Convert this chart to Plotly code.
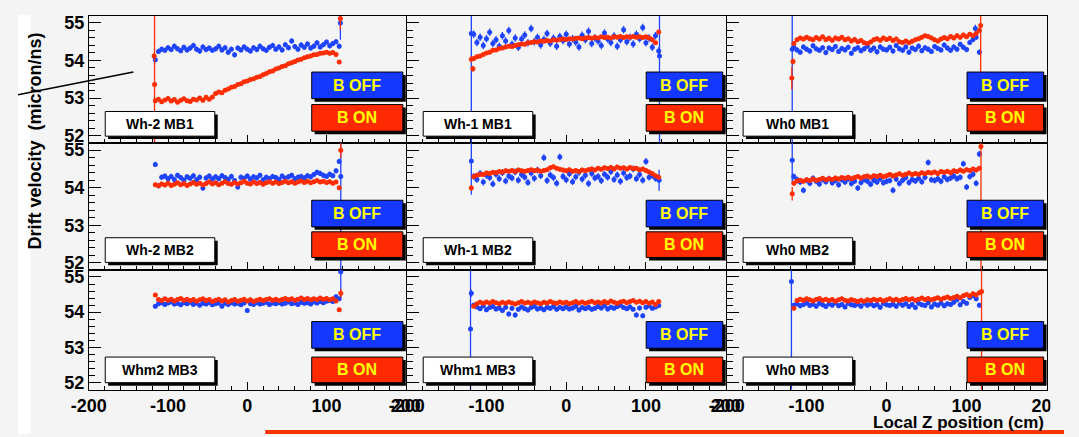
import plotly.graph_objects as go

W, H = 1079, 437

# ---------------- data ----------------
z_bins = [-116, -112, -108, -104, -100, -96, -92, -88, -84, -80, -76, -72, -68, -64, -60,
          -56, -52, -48, -44, -40, -36, -32, -28, -24, -20, -16, -12, -8, -4, 0,
          4, 8, 12, 16, 20, 24, 28, 32, 36, 40, 44, 48, 52, 56, 60,
          64, 68, 72, 76, 80, 84, 88, 92, 96, 100, 104, 108, 112, 116]

panel_names = ["Wh-2 MB1", "Wh-1 MB1", "Wh0 MB1",
               "Wh-2 MB2", "Wh-1 MB2", "Wh0 MB2",
               "Whm2 MB3", "Whm1 MB3", "Wh0 MB3"]

whm2_mb1_off = [54.02, 54.24, 54.30, 54.27, 54.34, 54.29, 54.38, 54.31, 54.26, 54.35,
                54.28, 54.33, 54.40, 54.30, 54.25, 54.36, 54.29, 54.33, 54.27, 54.31,
                54.38, 54.28, 54.34, 54.22, 54.30, 54.15, 54.33, 54.28, 54.36, 54.30,
                54.25, 54.34, 54.29, 54.38, 54.31, 54.27, 54.35, 54.40, 54.30, 54.36,
                54.28, 54.42, 54.34, 54.52, 54.37, 54.30, 54.41, 54.35, 54.44, 54.33,
                54.38, 54.47, 54.36, 54.42, 54.49, 54.39, 54.45, 54.50, 54.38]
whm2_mb1_on = [52.93, 52.97, 52.90, 52.95, 52.99, 52.92, 52.96, 52.89, 52.94, 52.98,
               52.93, 52.91, 52.97, 52.95, 53.00, 52.94, 53.02, 52.97, 53.03, 53.12,
               53.16, 53.14, 53.21, 53.24, 53.29, 53.31, 53.36, 53.38, 53.43, 53.45,
               53.49, 53.51, 53.55, 53.57, 53.62, 53.65, 53.70, 53.72, 53.77, 53.80,
               53.84, 53.86, 53.91, 53.94, 53.97, 54.01, 54.03, 54.07, 54.10, 54.12,
               54.15, 54.16, 54.19, 54.20, 54.22, 54.19, 54.21, 54.16, 53.96]

whm1_mb1_off = [54.70, 54.48, 54.62, 54.40, 54.58, 54.75, 54.45, 54.55, 54.38, 54.66,
                54.52, 54.80, 54.43, 54.60, 54.35, 54.57, 54.68, 54.47, 54.85, 54.50,
                54.62, 54.41, 54.56, 54.72, 54.46, 54.59, 54.38, 54.64, 54.53, 54.70,
                54.44, 54.58, 54.49, 54.36, 54.67, 54.55, 54.78, 54.45, 54.60, 54.52,
                54.40, 54.73, 54.57, 54.48, 54.65, 54.38, 54.55, 54.82, 54.50, 54.62,
                54.44, 54.70, 54.58, 54.88, 54.47, 54.60, 54.35, 54.66, 54.25]
whm1_mb1_on = [54.05, 54.10, 54.12, 54.16, 54.20, 54.22, 54.27, 54.28, 54.32, 54.33,
               54.36, 54.38, 54.37, 54.40, 54.42, 54.44, 54.43, 54.47, 54.48, 54.50,
               54.49, 54.52, 54.51, 54.53, 54.52, 54.55, 54.54, 54.56, 54.57, 54.56,
               54.58, 54.57, 54.59, 54.60, 54.58, 54.60, 54.61, 54.59, 54.62, 54.60,
               54.63, 54.61, 54.62, 54.60, 54.63, 54.62, 54.64, 54.61, 54.63, 54.62,
               54.64, 54.62, 54.63, 54.61, 54.63, 54.60, 54.55, 54.47, 54.76]

wh0_mb1_off = [54.35, 54.28, 54.22, 54.36, 54.30, 54.25, 54.39, 54.31, 54.27, 54.34,
               54.21, 54.33, 54.29, 54.37, 54.24, 54.32, 54.28, 54.35, 54.19, 54.30,
               54.34, 54.26, 54.31, 54.38, 54.27, 54.33, 54.23, 54.36, 54.30, 54.28,
               54.35, 54.25, 54.40, 54.31, 54.27, 54.36, 54.22, 54.33, 54.29, 54.38,
               54.26, 54.34, 54.30, 54.24, 54.37, 54.32, 54.28, 54.41, 54.33, 54.27,
               54.36, 54.30, 54.43, 54.35, 54.29, 54.48, 54.56, 54.62, 54.22]
wh0_mb1_on = [54.45, 54.55, 54.60, 54.57, 54.62, 54.58, 54.55, 54.61, 54.57, 54.63,
              54.56, 54.59, 54.54, 54.60, 54.57, 54.62, 54.55, 54.58, 54.52, 54.56,
              54.50, 54.53, 54.47, 54.45, 54.49, 54.55, 54.58, 54.54, 54.60, 54.56,
              54.59, 54.53, 54.57, 54.50, 54.48, 54.52, 54.47, 54.51, 54.55, 54.58,
              54.62, 54.66, 54.64, 54.60, 54.55, 54.52, 54.57, 54.61, 54.58, 54.64,
              54.60, 54.66, 54.62, 54.68, 54.63, 54.70, 54.66, 54.72, 54.80]

whm2_mb2_off = [54.62, 54.05, 54.28, 54.31, 54.24, 54.30, 54.22, 54.33, 54.27, 54.20,
                54.29, 54.25, 54.32, 54.21, 54.28, 53.99, 54.26, 54.31, 54.23, 54.29,
                54.24, 54.32, 54.27, 54.22, 54.30, 54.19, 54.02, 54.28, 54.25, 54.31,
                54.23, 54.29, 54.26, 54.33, 54.21, 54.28, 54.24, 54.30, 54.27, 54.22,
                54.31, 54.25, 54.29, 54.33, 54.24, 54.28, 54.30, 54.26, 54.32, 54.29,
                54.35, 54.41, 54.38, 54.33, 54.30, 54.36, 54.32, 54.45, 54.70]
whm2_mb2_on = [54.08, 54.05, 54.10, 54.07, 54.12, 54.06, 54.09, 54.13, 54.08, 54.11,
               54.06, 54.10, 54.14, 54.09, 54.12, 54.07, 54.11, 54.15, 54.10, 54.13,
               54.08, 54.12, 54.16, 54.11, 54.09, 54.14, 54.10, 54.13, 54.17, 54.12,
               54.10, 54.15, 54.11, 54.14, 54.09, 54.13, 54.16, 54.12, 54.15, 54.11,
               54.14, 54.17, 54.13, 54.16, 54.12, 54.15, 54.18, 54.14, 54.17, 54.13,
               54.16, 54.19, 54.15, 54.17, 54.14, 54.16, 54.12, 54.15, 54.00]

whm1_mb2_off = [54.30, 54.22, 54.38, 54.15, 54.33, 54.27, 54.10, 54.36, 54.24, 54.40,
                54.18, 54.31, 54.26, 54.42, 54.20, 54.35, 54.28, 54.14, 54.39, 54.25,
                54.47, 54.32, 54.80, 54.19, 54.34, 54.27, 54.12, 54.82, 54.30, 54.21,
                54.37, 54.16, 54.29, 54.41, 54.23, 54.33, 54.11, 54.38, 54.26, 54.30,
                54.19, 54.36, 54.28, 54.43, 54.22, 54.34, 54.17, 54.39, 54.27, 54.31,
                54.50, 54.24, 54.35, 54.20, 54.70, 54.28, 54.33, 54.25, 54.22]
whm1_mb2_on = [54.30, 54.33, 54.36, 54.35, 54.39, 54.38, 54.41, 54.40, 54.43, 54.42,
               54.45, 54.44, 54.46, 54.43, 54.47, 54.45, 54.44, 54.46, 54.48, 54.45,
               54.47, 54.44, 54.46, 54.48, 54.53, 54.56, 54.52, 54.49, 54.47, 54.45,
               54.48, 54.44, 54.46, 54.43, 54.47, 54.45, 54.48, 54.50, 54.47, 54.52,
               54.49, 54.53, 54.51, 54.54, 54.50, 54.55, 54.52, 54.53, 54.50, 54.54,
               54.51, 54.52, 54.48, 54.50, 54.46, 54.42, 54.38, 54.32, 54.28]

wh0_mb2_off = [54.30, 54.22, 54.15, 53.93, 54.20, 54.12, 54.25, 54.17, 54.10, 54.22,
               54.16, 54.24, 54.13, 54.19, 54.08, 54.21, 54.15, 54.23, 54.11, 54.18,
               53.99, 54.14, 54.22, 54.17, 54.09, 54.20, 54.15, 54.24, 54.13, 54.17,
               54.19, 53.93, 54.23, 54.11, 54.20, 54.27, 54.14, 54.22, 54.18, 54.25,
               54.16, 54.28, 54.67, 54.21, 54.19, 54.24, 54.17, 54.29, 54.22, 54.26,
               54.31, 54.24, 54.28, 54.64, 54.02, 54.30, 54.36, 54.12, 54.90]
wh0_mb2_on = [54.12, 54.18, 54.20, 54.17, 54.21, 54.19, 54.23, 54.20, 54.22, 54.25,
              54.21, 54.24, 54.22, 54.26, 54.23, 54.27, 54.25, 54.28, 54.24, 54.27,
              54.30, 54.26, 54.29, 54.31, 54.28, 54.32, 54.30, 54.33, 54.29, 54.32,
              54.35, 54.31, 54.34, 54.37, 54.33, 54.36, 54.39, 54.35, 54.38, 54.36,
              54.40, 54.37, 54.41, 54.39, 54.42, 54.38, 54.43, 54.41, 54.44, 54.40,
              54.45, 54.43, 54.47, 54.44, 54.48, 54.46, 54.50, 54.47, 54.52]

whm2_mb3_off = [54.17, 54.24, 54.27, 54.22, 54.26, 54.29, 54.23, 54.25, 54.21, 54.27,
                54.24, 54.28, 54.22, 54.26, 54.20, 54.25, 54.23, 54.27, 54.21, 54.24,
                54.26, 54.17, 54.25, 54.22, 54.27, 54.23, 54.25, 54.21, 54.26, 54.05,
                54.24, 54.22, 54.27, 54.23, 54.25, 54.28, 54.22, 54.26, 54.24, 54.27,
                54.23, 54.25, 54.29, 54.24, 54.26, 54.22, 54.28, 54.25, 54.27, 54.23,
                54.29, 54.26, 54.30, 54.27, 54.31, 54.33, 54.30, 54.44, 54.38]
whm2_mb3_on = [54.49, 54.36, 54.33, 54.38, 54.34, 54.37, 54.32, 54.36, 54.39, 54.34,
               54.37, 54.33, 54.36, 54.31, 54.35, 54.38, 54.33, 54.36, 54.30, 54.34,
               54.37, 54.32, 54.35, 54.29, 54.33, 54.36, 54.31, 54.34, 54.37, 54.32,
               54.35, 54.30, 54.34, 54.37, 54.33, 54.36, 54.38, 54.34, 54.37, 54.33,
               54.36, 54.39, 54.35, 54.38, 54.34, 54.37, 54.40, 54.36, 54.39, 54.35,
               54.38, 54.36, 54.40, 54.37, 54.39, 54.35, 54.38, 54.32, 54.07]

whm1_mb3_off = [54.20, 54.15, 54.10, 54.18, 54.07, 54.13, 54.16, 54.09, 54.12, 54.05,
                54.14, 53.95, 54.11, 53.92, 54.08, 54.15, 54.10, 54.06, 54.13, 54.17,
                54.09, 54.12, 54.07, 54.14, 54.11, 54.16, 54.08, 54.13, 54.10, 54.15,
                54.09, 54.12, 54.17, 54.06, 54.13, 54.10, 54.14, 54.08, 54.11, 54.16,
                54.12, 54.18, 54.09, 54.14, 54.11, 54.16, 54.20, 54.13, 54.10, 54.15,
                54.08, 53.92, 54.12, 53.90, 54.14, 54.18, 54.11, 54.15, 54.19]
whm1_mb3_on = [54.17, 54.24, 54.28, 54.25, 54.29, 54.26, 54.30, 54.27, 54.24, 54.28,
               54.25, 54.29, 54.26, 54.23, 54.27, 54.30, 54.26, 54.28, 54.25, 54.29,
               54.27, 54.24, 54.28, 54.26, 54.30, 54.27, 54.25, 54.29, 54.26, 54.28,
               54.24, 54.27, 54.30, 54.26, 54.29, 54.25, 54.28, 54.31, 54.27, 54.29,
               54.26, 54.30, 54.27, 54.32, 54.28, 54.25, 54.29, 54.31, 54.27, 54.30,
               54.33, 54.28, 54.31, 54.27, 54.30, 54.25, 54.29, 54.22, 54.30]

wh0_mb3_off = [54.20, 54.24, 54.18, 54.22, 54.26, 54.19, 54.23, 54.17, 54.25, 54.21,
               54.16, 54.24, 54.20, 54.27, 54.18, 54.22, 54.15, 54.25, 54.21, 54.19,
               54.23, 54.17, 54.26, 54.20, 54.24, 54.18, 54.22, 54.14, 54.25, 54.21,
               54.19, 54.23, 54.17, 54.26, 54.20, 54.24, 54.16, 54.22, 54.13, 54.25,
               54.21, 54.19, 54.27, 54.15, 54.23, 54.20, 54.26, 54.18, 54.24, 54.22,
               54.28, 54.35, 54.21, 54.30, 54.25, 54.42, 54.47, 54.38, 54.20]
wh0_mb3_on = [54.11, 54.33, 54.37, 54.34, 54.38, 54.35, 54.32, 54.36, 54.39, 54.34,
              54.37, 54.33, 54.36, 54.31, 54.35, 54.38, 54.34, 54.32, 54.36, 54.33,
              54.30, 54.34, 54.31, 54.35, 54.33, 54.37, 54.34, 54.36, 54.32, 54.35,
              54.38, 54.34, 54.37, 54.33, 54.36, 54.39, 54.35, 54.38, 54.34, 54.37,
              54.40, 54.36, 54.39, 54.35, 54.38, 54.41, 54.37, 54.40, 54.43, 54.39,
              54.42, 54.45, 54.41, 54.47, 54.50, 54.46, 54.52, 54.49, 54.55]

# statistical uncertainty of the bulk points, per panel
sigma_off = [0.07, 0.10, 0.07, 0.07, 0.09, 0.08, 0.06, 0.07, 0.07]
sigma_on = [0.05, 0.05, 0.06, 0.05, 0.06, 0.06, 0.05, 0.05, 0.06]
bin_half = 2.0

# chamber-edge bins (large uncertainties), per panel
edge_off_z = [[117.5], [-119, 117], [-118, 111], [118], [-119, 116.5], [-118], [118], [-120, -119], [-119]]
edge_off_v = [[55.0], [54.72, 54.12], [54.30, 54.85], [54.30], [54.71, 54.20], [54.73], [55.15], [53.52, 54.54], [54.87]]
edge_off_e = [[0.45], [3.5, 3.5], [3.5, 0.1], [3.5], [0.9, 0.28], [0.6], [0.75], [4.0, 0.1], [4.0]]
edge_on_z = [[-117.5, -117, 117.5], [-119, -117], [-118.5, -117, 117.6], [118], [-119], [-118, 118], [118], [], [118.7]]
edge_on_v = [[54.12, 53.36, 55.12], [54.03, 53.78], [53.53, 53.97, 54.93], [55.0], [53.99], [53.84, 55.10], [54.54], [], [54.59]]
edge_on_e = [[0.08, 3.5, 0.3], [0.08, 0.08], [0.3, 0.08, 1.25], [0.2], [0.08], [0.18, 4.0], [0.12], [], [4.0]]

series_off = [whm2_mb1_off, whm1_mb1_off, wh0_mb1_off, whm2_mb2_off, whm1_mb2_off,
              wh0_mb2_off, whm2_mb3_off, whm1_mb3_off, wh0_mb3_off]
series_on = [whm2_mb1_on, whm1_mb1_on, wh0_mb1_on, whm2_mb2_on, whm1_mb2_on,
             wh0_mb2_on, whm2_mb3_on, whm1_mb3_on, wh0_mb3_on]

x_ticks = [-200, -100, 0, 100, 200]
y_ticks = [52, 53, 54, 55]

# ---------------- style / layout ----------------
BLUE = "#1f44ff"
RED = "#ff2d00"
BOX_BLUE = "#1438ff"
BOX_RED = "#ff2a00"
YELLOW = "#ffff00"
BG = "#f4f4f4"
FONT = "Liberation Sans"

col_px = [(73, 400), (401, 730), (731, 1061)]
row_px = [(13, 142), (142, 271), (271, 392)]
off_box_x = [(303, 397), (648, 727), (979, 1058)]
off_box_y = [(70, 97), (200, 227), (323, 350)]
on_box_y = [(103, 130), (232, 258), (359, 385)]
label_y = [(110, 135), (238, 263), (359, 385)]


def fx(p):
    return p / W


def fy(p):
    return 1 - p / H


fig = go.Figure()
layout = dict(
    width=W, height=H, margin=dict(l=0, r=0, t=0, b=0),
    paper_bgcolor=BG, plot_bgcolor=BG, showlegend=False,
    font=dict(family=FONT, color="black"),
)
shapes = []
annotations = []


def box(x0, y0, x1, y1, fill, text, tcolor, size):
    shapes.append(dict(type="rect", xref="paper", yref="paper",
                       x0=fx(x0 + 3), x1=fx(x1 + 3), y0=fy(y1 + 3), y1=fy(y0 + 3),
                       fillcolor="black", line=dict(width=0), layer="above"))
    shapes.append(dict(type="rect", xref="paper", yref="paper",
                       x0=fx(x0), x1=fx(x1), y0=fy(y1), y1=fy(y0),
                       fillcolor=fill, line=dict(color="black", width=1), layer="above"))
    annotations.append(dict(xref="paper", yref="paper", x=fx((x0 + x1) / 2), y=fy((y0 + y1) / 2),
                            text=text, showarrow=False, xanchor="center", yanchor="middle",
                            font=dict(family=FONT, size=size, color=tcolor, weight="bold")))


for i in range(9):
    r, c = divmod(i, 3)
    xa = "x" if i == 0 else f"x{i + 1}"
    ya = "y" if i == 0 else f"y{i + 1}"
    xkey = "xaxis" if i == 0 else f"xaxis{i + 1}"
    ykey = "yaxis" if i == 0 else f"yaxis{i + 1}"

    layout[xkey] = dict(
        domain=[fx(col_px[c][0]), fx(col_px[c][1])], anchor=ya, range=[-200, 200],
        showline=True, mirror=True, linecolor="black", linewidth=1,
        ticks="inside", ticklen=8, tickwidth=1, tickcolor="black",
        tickvals=x_ticks, ticktext=[str(v) for v in x_ticks],
        minor=dict(dtick=20, tick0=0, ticks="inside", ticklen=4, tickcolor="black", tickwidth=1),
        showgrid=False, zeroline=False, showticklabels=(r == 2),
        tickfont=dict(family=FONT, size=18, color="black", weight="bold"),
        ticklabeloverflow="allow",
    )
    layout[ykey] = dict(
        domain=[fy(row_px[r][1]), fy(row_px[r][0])], anchor=xa, range=[51.8, 55.19],
        showline=True, mirror=True, linecolor="black", linewidth=1,
        ticks="inside", ticklen=12, tickwidth=1, tickcolor="black",
        tickvals=y_ticks, ticktext=[str(v) for v in y_ticks],
        minor=dict(dtick=0.2, tick0=52, ticks="inside", ticklen=6, tickcolor="black", tickwidth=1),
        showgrid=False, zeroline=False, showticklabels=(c == 0),
        tickfont=dict(family=FONT, size=18, color="black", weight="bold"),
    )

    for vals, ez, ev, ee, sig, col in (
        (series_off[i], edge_off_z[i], edge_off_v[i], edge_off_e[i], sigma_off[i], BLUE),
        (series_on[i], edge_on_z[i], edge_on_v[i], edge_on_e[i], sigma_on[i], RED),
    ):
        fig.add_trace(go.Scatter(
            x=z_bins, y=vals, xaxis=xa, yaxis=ya, mode="markers",
            marker=dict(color=col, size=5),
            error_y=dict(type="constant", value=sig, color=col, thickness=1.3, width=0),
            error_x=dict(type="constant", value=bin_half, color=col, thickness=1.3, width=0),
        ))
        if ez:
            fig.add_trace(go.Scatter(
                x=ez, y=ev, xaxis=xa, yaxis=ya, mode="markers",
                marker=dict(color=col, size=5),
                error_y=dict(type="data", array=ee, color=col, thickness=1.3, width=0),
                error_x=dict(type="constant", value=bin_half, color=col, thickness=1.3, width=0),
            ))

    # legend boxes
    bx0, bx1 = off_box_x[c]
    box(bx0, off_box_y[r][0], bx1, off_box_y[r][1], BOX_BLUE, "B OFF", YELLOW, 16)
    box(bx0, on_box_y[r][0], bx1, on_box_y[r][1], BOX_RED, "B ON", YELLOW, 16)
    # chamber label
    lx0 = col_px[c][0] + 17
    box(lx0, label_y[r][0], lx0 + 113, label_y[r][1], "white", panel_names[i], "black", 14)

# axis titles
annotations.append(dict(xref="paper", yref="paper", x=fx(18), y=fy(140), textangle=-90,
                        text="Drift velocity  (micron/ns)", showarrow=False,
                        xanchor="center", yanchor="middle",
                        font=dict(family=FONT, size=18, color="black", weight="bold")))
annotations.append(dict(xref="paper", yref="paper", x=fx(1060), y=fy(425),
                        text="Local Z position (cm)", showarrow=False,
                        xanchor="right", yanchor="middle",
                        font=dict(family=FONT, size=17, color="black", weight="bold")))

# page decorations
shapes.append(dict(type="rect", xref="paper", yref="paper", x0=0, x1=fx(13), y0=0, y1=fy(12),
                   fillcolor="white", line=dict(width=0), layer="below"))
shapes.append(dict(type="line", xref="paper", yref="paper", x0=0, y0=fy(93), x1=fx(119), y1=fy(70),
                   line=dict(color="black", width=1.5), layer="above"))
shapes.append(dict(type="rect", xref="paper", yref="paper", x0=fx(255), x1=1, y0=0, y1=fy(433),
                   fillcolor="#ff3300", line=dict(width=0), layer="above"))
shapes.append(dict(type="rect", xref="paper", yref="paper", x0=fx(1065), x1=1, y0=fy(416), y1=fy(394),
                   fillcolor=BG, line=dict(width=0), layer="above"))

layout["shapes"] = shapes
layout["annotations"] = annotations
fig.update_layout(**layout)

fig.write_html("out.html")
